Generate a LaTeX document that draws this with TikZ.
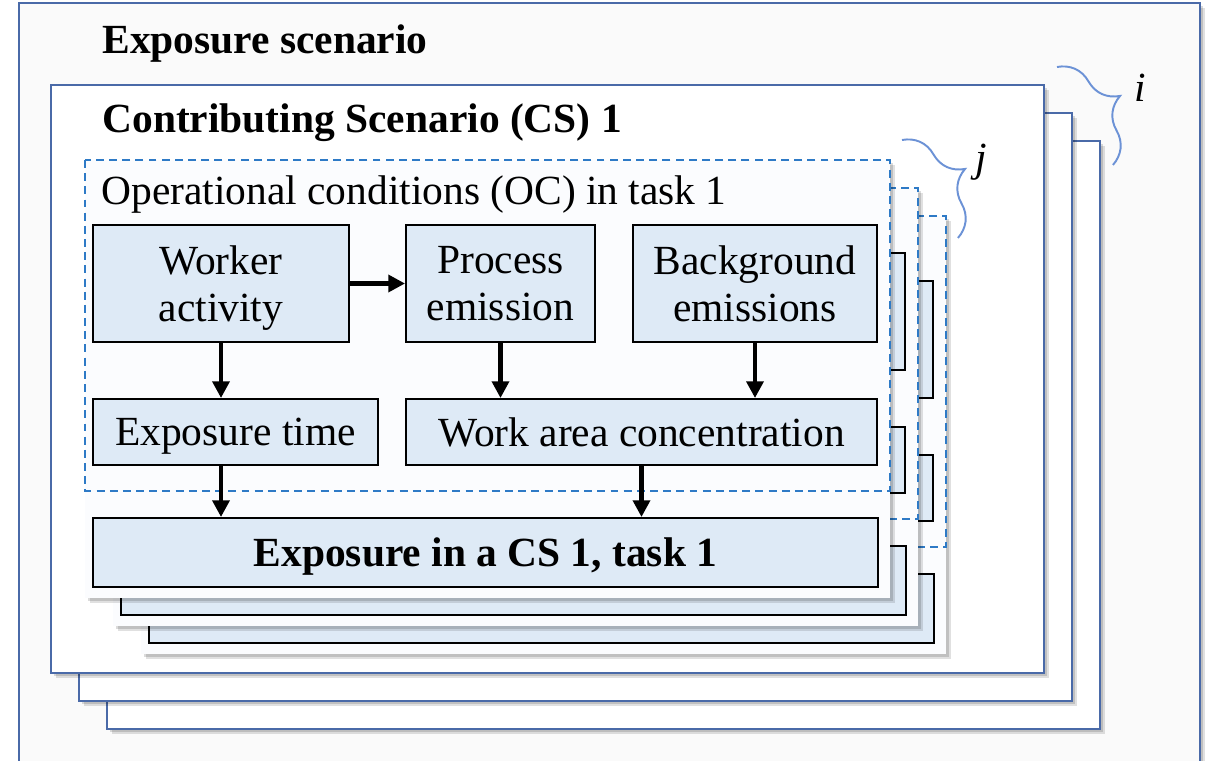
\documentclass[tikz,border=0pt]{standalone}
\usepackage{fontspec}
\setmainfont{Liberation Serif}
\usepackage{tikz}
\usetikzlibrary{positioning}
\usetikzlibrary{arrows.meta}
\usetikzlibrary{shadows}
\usetikzlibrary{decorations.pathreplacing}

\definecolor{csblue}{RGB}{74,106,168}
\definecolor{ocblue}{RGB}{46,122,198}
\definecolor{braceblue}{RGB}{108,146,214}
\definecolor{blockfill}{RGB}{222,234,246}
\definecolor{panelfill}{RGB}{251,252,254}
\definecolor{outerfill}{RGB}{250,250,250}
\newcommand{\figfont}{\fontsize{23.6}{26.9}\selectfont}

\begin{document}
\begin{tikzpicture}[
x=0.02cm, y=-0.02cm,
font=\figfont,
softshadow/.style={drop shadow={shadow xshift=3pt, shadow yshift=-3pt, fill=black, opacity=0.12},
                   drop shadow={shadow xshift=1.6pt, shadow yshift=-1.6pt, fill=black, opacity=0.14}},
outerbox/.style={draw=csblue, line width=1.4pt, fill=outerfill, softshadow},
layer/.style={draw=csblue, line width=1.5pt, fill=white, softshadow},
panel/.style={fill=panelfill, softshadow},
ocbox/.style={draw=ocblue, line width=1.3pt, dash pattern=on 4.5pt off 3pt},
block/.style={draw, line width=1.1pt, fill=blockfill, align=center, inner sep=0pt},
textblock/.style={block, text depth=0pt},
title/.style={anchor=base west, inner sep=0pt, font=\figfont\bfseries},
edge/.style={-{Triangle[length=9.5pt, width=9.5pt]}, line width=2.8pt},
bracket/.style={draw=braceblue, line width=1.1pt, decorate, decoration={brace, amplitude=23pt}}
]
\useasboundingbox (0,0) rectangle (1215,761);
\clip (0,0) rectangle (1215,761);

%Frames
\draw[outerbox] (19,3) rectangle (1200,800);
\foreach \k in {2,1,0}
  \draw[layer] (51+28*\k,85+28*\k) rectangle (1044+28*\k,673+28*\k);

\node[title] (es) at (102,53) {Exposure scenario};
\node[title] (cs) at (102,132) {Contributing Scenario (CS) 1};

% tasks 3 and 2, mostly hidden behind task 1
\foreach \k in {2,1} {
\begin{scope}[shift={(28*\k,28*\k)}]
  \fill[panel] (85,160) rectangle (890,598);
  \draw[ocbox] (85,160) rectangle (890,491);
  \draw[block] (93,225) rectangle (349,342);
  \draw[block] (406,225) rectangle (595,342);
  \draw[block] (633,225) rectangle (877,342);
  \draw[block] (93,399) rectangle (378,465);
  \draw[block] (406,399) rectangle (877,465);
  \draw[block] (93,518) rectangle (878,587);
\end{scope}
}

% task 1
\fill[panel] (85,160) rectangle (890,598);
\draw[ocbox] (85,160) rectangle (890,491);
\node[anchor=base west, inner sep=0pt] (oc) at (101,204) {Operational conditions (OC) in task 1};

%Nodes
\node[textblock, minimum width=5.12cm, minimum height=2.34cm] (wa) at (221,283.5) {Worker\\activity};
\node[textblock, minimum width=3.78cm, minimum height=2.34cm] (pe) at (500.5,283.5) {Process\\emission};
\node[textblock, minimum width=4.88cm, minimum height=2.34cm] (be) at (755,283.5) {Background\\emissions};
\node[textblock, minimum width=5.7cm, minimum height=1.32cm] (et) at (235.5,432) {Exposure time};
\node[textblock, minimum width=9.42cm, minimum height=1.32cm] (wc) at (641.5,432) {Work area concentration};
\node[textblock, minimum width=15.7cm, minimum height=1.38cm, font=\figfont\bfseries] (ex) at (485.5,552.5) {Exposure in a CS 1, task 1};

%Lines
\draw[edge] (wa.east) -- (pe.west);
\draw[edge] (wa.south) -- (wa.south |- et.north);
\draw[edge] (pe.south) -- (pe.south |- wc.north);
\draw[edge] (be.south) -- (be.south |- wc.north);
\draw[edge] (et.south -| wa.south) -- (ex.north -| wa.south);
\draw[edge] (wc.south) -- (wc.south |- ex.north);

% braces for the i scenarios and j tasks
\coordinate (i1) at (1057,67);
\coordinate (i2) at (1113,165);
\coordinate (j1) at (902,140);
\coordinate (j2) at (958,238);
\draw[bracket] (i1) -- (i2);
\draw[bracket] (j1) -- (j2);
\node[anchor=base] (ilab) at (1140,101) {\textit{i}};
\node[anchor=base] (jlab) at (981,171) {\textit{j}};

\end{tikzpicture}
\end{document}
